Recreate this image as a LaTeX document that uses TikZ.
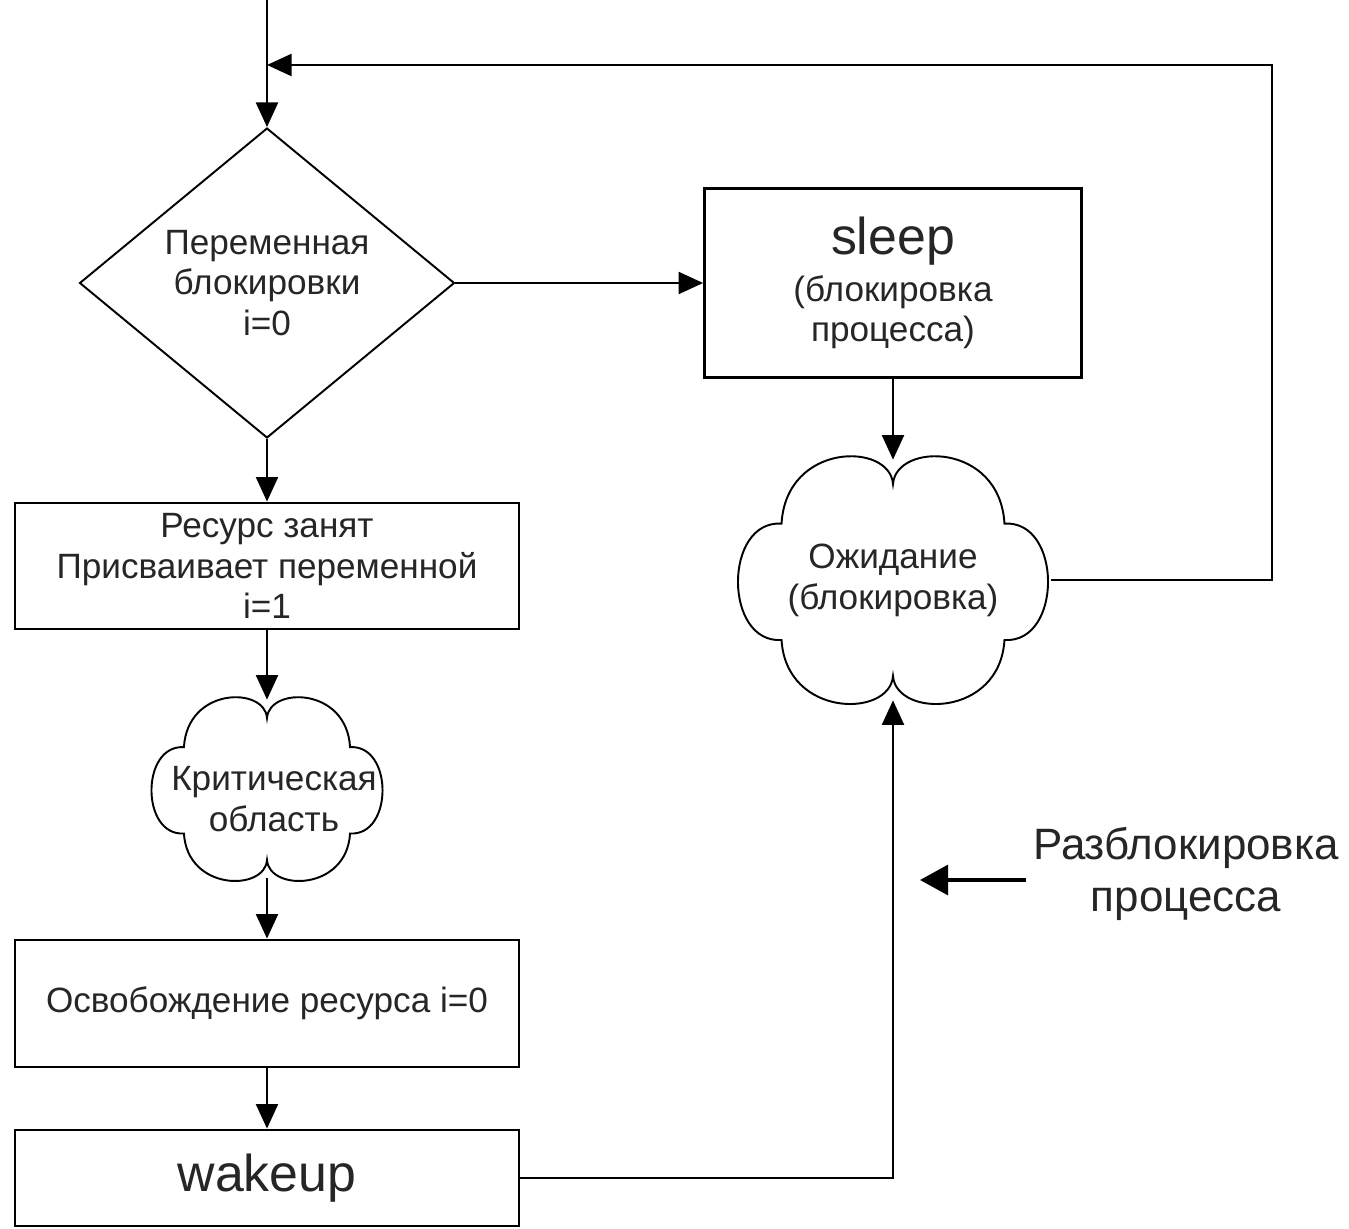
\documentclass[tikz,border=0pt]{standalone}
\usepackage{fontspec}
\setmainfont{Liberation Sans}
\usetikzlibrary{arrows.meta,shapes.geometric}

% Cloud outline around a (borderless) node; #2 and #3 are half width and half height
\newcommand\cloudoutline[3]{%
  \begin{scope}[shift={(#1.center)}, xscale=#2, yscale=#3]
    \draw[cloudline] (0,-0.8)
      .. controls (0.02,-1.15) and (0.68,-1.15) .. (0.71,-0.47)
      .. controls (1.08,-0.5) and (1.08,0.53) .. (0.71,0.5)
      .. controls (0.68,1.15) and (0.02,1.15) .. (0,0.8)
      .. controls (-0.02,1.15) and (-0.68,1.15) .. (-0.71,0.5)
      .. controls (-1.08,0.53) and (-1.08,-0.5) .. (-0.71,-0.47)
      .. controls (-0.68,-1.15) and (-0.02,-1.15) .. (0,-0.8) -- cycle;
  \end{scope}}

\begin{document}
\begin{tikzpicture}[x=0.02cm, y=-0.02cm,
  txt/.style={font=\fontsize{20}{23.2}\selectfont, text=black!85, align=center},
  bigtxt/.style={font=\fontsize{29.5}{34}\selectfont, text=black!85, align=center},
  box/.style={draw, rectangle, line width=1.6pt, inner sep=0pt, txt},
  cloudnode/.style={rectangle, inner sep=0pt, txt},
  cloudline/.style={line width=1.1pt},
  conn/.style={line width=1.4pt, -{Triangle[length=14pt,width=12.5pt]}},
  pointer/.style={line width=2.2pt, -{Triangle[length=16pt,width=17pt]}}
]
\useasboundingbox[fill=white] (0,0) rectangle (1349,1229);

% nodes
\node[diamond, draw, line width=1.1pt, shape aspect=1.21, inner sep=0pt,
      minimum width=7.5cm, minimum height=6.2cm, txt] (dec) at (267,283)
      {Переменная\\блокировки\\i=0};
\node[box, minimum width=7.54cm, minimum height=3.78cm] (slp) at (893,283)
      {{\fontsize{29.5}{34}\selectfont sleep}\\[3.4pt](блокировка\\процесса)};
\node[cloudnode, minimum width=6.3cm, minimum height=4.8cm] (wait) at (893,580)
      {Ожидание\\(блокировка)};
\node[box, minimum width=10.08cm, minimum height=2.52cm] (res) at (267,566)
      {Ресурс занят\\Присваивает переменной\\i=1};
\node[cloudnode, minimum width=4.7cm, minimum height=3.56cm] (crit) at (267,789) {};
\node[txt] (critlbl) at (274,799) {Критическая\\область};
\node[box, minimum width=10.08cm, minimum height=2.54cm] (free) at (267,1003.5)
      {Освобождение ресурса i=0};
\node[box, bigtxt, minimum width=10.08cm, minimum height=1.92cm] (wk) at (267,1178)
      {wakeup};
\node[font=\fontsize{25}{29.5}\selectfont, text=black!85, align=center, inner sep=4pt]
      (lbl) at (1186,874) {Разблокировка\\процесса};

% cloud outlines
\cloudoutline{wait}{157}{120}
\cloudoutline{crit}{117}{89}

% helper points
\coordinate (start) at (267,0);
\coordinate (join) at (267,65);
\coordinate (corner) at (1272,65);
\coordinate (unblk) at (920,880);

% connectors
\draw[conn] (start) -- (dec.north);
\draw[conn] (dec.east) -- (slp.west);
\draw[conn] (slp.south) -- (wait.north);
\draw[conn] (wait.east) -| (corner) -- (join);
\draw[conn] (dec.south) -- (res.north);
\draw[conn] (res.south) -- (crit.north);
\draw[conn] (crit.south) -- (free.north);
\draw[conn] (free.south) -- (wk.north);
\draw[conn] (wk.east) -| (wait.south);
\draw[pointer] (lbl.west |- unblk) -- (unblk);
\end{tikzpicture}
\end{document}
